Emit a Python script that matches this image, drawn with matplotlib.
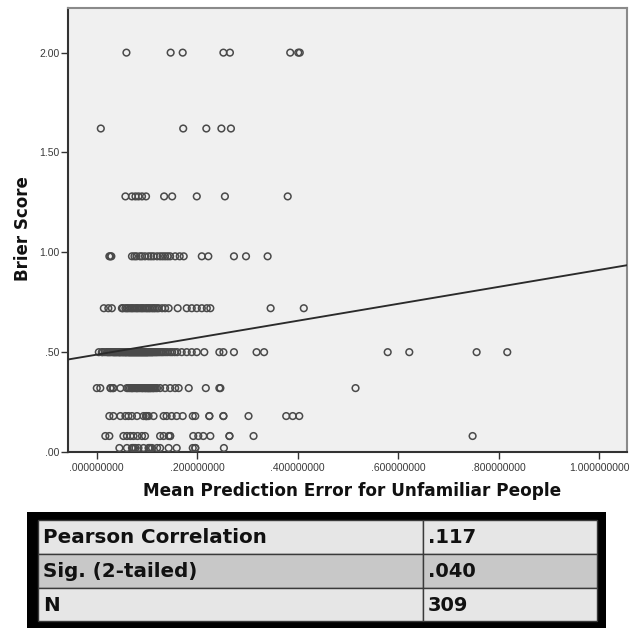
import numpy as np
import matplotlib.pyplot as plt
from matplotlib.patches import Rectangle

lvl_200 = [0.059, 0.147, 0.171, 0.252, 0.265, 0.385, 0.401, 0.404]
lvl_162 = [0.008, 0.172, 0.218, 0.248, 0.267]
lvl_128 = [0.057, 0.070, 0.077, 0.083, 0.090, 0.098, 0.134, 0.150, 0.199, 0.255, 0.380]
lvl_098 = [0.025, 0.027, 0.029, 0.070, 0.075, 0.079, 0.086, 0.090, 0.096, 0.103,
           0.108, 0.113, 0.120, 0.126, 0.131, 0.136, 0.141, 0.146, 0.156, 0.165,
           0.173, 0.209, 0.222, 0.273, 0.297, 0.340]
lvl_072 = [0.014, 0.023, 0.030, 0.050, 0.052, 0.057, 0.060, 0.063, 0.067, 0.070,
           0.073, 0.077, 0.080, 0.083, 0.087, 0.090, 0.093, 0.097, 0.100, 0.103,
           0.106, 0.110, 0.113, 0.116, 0.120, 0.123, 0.130, 0.136, 0.143, 0.161,
           0.179, 0.189, 0.199, 0.209, 0.219, 0.226, 0.346, 0.412]
lvl_050 = [0.004, 0.010, 0.012, 0.016, 0.020, 0.022, 0.024, 0.026, 0.028, 0.031,
           0.033, 0.034, 0.036, 0.037, 0.039, 0.040, 0.042, 0.044, 0.045, 0.046,
           0.047, 0.049, 0.050, 0.052, 0.053, 0.054, 0.056, 0.057, 0.058, 0.059,
           0.060, 0.062, 0.063, 0.064, 0.065, 0.066, 0.067, 0.068, 0.069, 0.070,
           0.071, 0.072, 0.073, 0.074, 0.075, 0.076, 0.077, 0.078, 0.079, 0.080,
           0.081, 0.082, 0.083, 0.084, 0.085, 0.086, 0.087, 0.088, 0.089, 0.090,
           0.091, 0.092, 0.093, 0.094, 0.095, 0.096, 0.097, 0.098, 0.099, 0.100,
           0.101, 0.102, 0.103, 0.105, 0.106, 0.107, 0.109, 0.110, 0.111, 0.113,
           0.115, 0.117, 0.119, 0.121, 0.124, 0.127, 0.130, 0.133, 0.137, 0.141,
           0.146, 0.150, 0.155, 0.160,
           0.169, 0.179, 0.189, 0.199, 0.214, 0.244, 0.252, 0.273, 0.318, 0.333,
           0.579, 0.622, 0.756, 0.817]
lvl_032 = [0.000, 0.007, 0.027, 0.028, 0.032, 0.033, 0.047, 0.060, 0.063, 0.066,
           0.069, 0.070, 0.072, 0.075, 0.078, 0.080, 0.081, 0.084, 0.087, 0.090,
           0.091, 0.093, 0.096, 0.097, 0.099, 0.101, 0.102, 0.104, 0.105, 0.107,
           0.108, 0.111, 0.112, 0.114, 0.117, 0.120, 0.126, 0.136, 0.146, 0.156,
           0.163, 0.183, 0.217, 0.244, 0.246, 0.515]
lvl_018 = [0.025, 0.033, 0.047, 0.057, 0.063, 0.070, 0.080, 0.093, 0.098, 0.098,
           0.100, 0.103, 0.113, 0.133, 0.139, 0.149, 0.159, 0.171, 0.191, 0.196,
           0.224, 0.224, 0.252, 0.252, 0.302, 0.377, 0.390, 0.403]
lvl_008 = [0.017, 0.025, 0.053, 0.060, 0.067, 0.073, 0.081, 0.090, 0.096, 0.126,
           0.133, 0.143, 0.146, 0.146, 0.192, 0.202, 0.212, 0.226, 0.264, 0.264,
           0.312, 0.748]
lvl_002 = [0.045, 0.060, 0.070, 0.072, 0.074, 0.077, 0.083, 0.093, 0.103, 0.105,
           0.107, 0.110, 0.120, 0.126, 0.143, 0.159, 0.191, 0.196, 0.196, 0.253]

rows = {2.00: lvl_200, 1.62: lvl_162, 1.28: lvl_128, 0.98: lvl_098, 0.72: lvl_072,
        0.50: lvl_050, 0.32: lvl_032, 0.18: lvl_018, 0.08: lvl_008, 0.02: lvl_002}

# fit line
fit_intercept = 0.4876
fit_slope = 0.4243

xticks = [0.0, 0.2, 0.4, 0.6, 0.8, 1.0]
xticklabels = ['.000000000', '.200000000', '.400000000', '.600000000', '.800000000', '1.000000000']
yticks = [0.0, 0.5, 1.0, 1.5, 2.0]
yticklabels = ['.00', '.50', '1.00', '1.50', '2.00']

table_labels = ['Pearson Correlation', 'Sig. (2-tailed)', 'N']
table_values = ['.117', '.040', '309']

x = np.concatenate([np.array(v) for v in rows.values()])
y = np.concatenate([np.full(len(v), k) for k, v in rows.items()])

W, H = 639, 629
fig = plt.figure(figsize=(W / 100, H / 100), dpi=100)
fig.patch.set_facecolor('white')

# scatter axes
ax = fig.add_axes([68.3 / W, 1 - 452 / H, 558.4 / W, 443.7 / H])
ax.set_facecolor('#f0f0f0')
ax.set_xlim(-0.0567, 1.0547)
ax.set_ylim(0, 2.222)

ax.scatter(x, y, s=23, facecolors='none', edgecolors='#4a4a4a', linewidths=1.1, zorder=3)

xs = np.array(ax.get_xlim())
ax.plot(xs, fit_intercept + fit_slope * xs, color='#2a2a2a', lw=1.35, zorder=4)

ax.set_xticks(xticks)
ax.set_xticklabels(xticklabels)
ax.set_yticks(yticks)
ax.set_yticklabels(yticklabels)
ax.tick_params(direction='out', length=5, width=1, color='#333333',
               labelcolor='#3a3a3a', labelsize=7.5)
ax.tick_params(axis='x', pad=3)
ax.tick_params(axis='y', pad=1.5)
for lab in ax.get_xticklabels() + ax.get_yticklabels():
    lab.set_family('Liberation Sans')

for side in ['left', 'bottom']:
    ax.spines[side].set_color('#333333')
    ax.spines[side].set_linewidth(1.5)
for side in ['top', 'right']:
    ax.spines[side].set_color('#8a8a8a')
    ax.spines[side].set_linewidth(1.5)

ax.set_xlabel('Mean Prediction Error for Unfamiliar People', fontsize=12.2,
              fontweight='bold', family='DejaVu Sans', color='#111111', va='center')
ax.xaxis.set_label_coords(0.508, -0.088)
ax.set_ylabel('Brier Score', fontsize=12, fontweight='bold',
              family='DejaVu Sans', color='#111111', va='center')
ax.yaxis.set_label_coords(-0.0806, 0.504)

# correlation table drawn in pixel coordinates
tax = fig.add_axes([0, 0, 1, 1])
tax.set_xlim(0, W)
tax.set_ylim(H, 0)
tax.axis('off')

tax.add_patch(Rectangle((26.7, 512.3), 606 - 26.7, 628 - 512.3, facecolor='black', edgecolor='none'))
row_edges = [520, 554.3, 588.3, 621]
row_colors = ['#e6e6e6', '#c8c8c8', '#e6e6e6']
for i in range(3):
    top, bot = row_edges[i], row_edges[i + 1]
    for x0, x1 in [(38.3, 422.7), (422.7, 596.7)]:
        tax.add_patch(Rectangle((x0, top), x1 - x0, bot - top, facecolor=row_colors[i],
                                edgecolor='#3a3a3a', linewidth=1))
    yc = (top + bot) / 2 + 0.5
    tax.text(43, yc, table_labels[i], fontsize=14.3, fontweight='bold',
             family='DejaVu Sans', color='#111111', ha='left', va='center')
    tax.text(428, yc, table_values[i], fontsize=14, fontweight='bold',
             family='DejaVu Sans', color='#111111', ha='left', va='center')

fig.savefig('out.png', dpi=100)
